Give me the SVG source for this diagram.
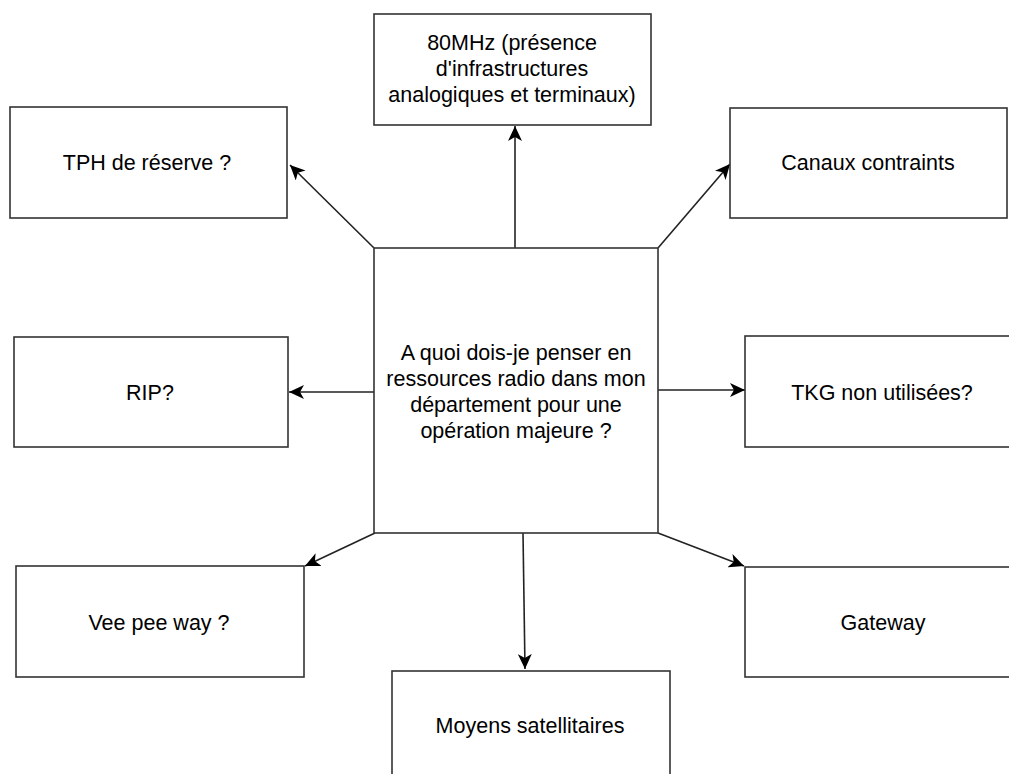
<svg xmlns="http://www.w3.org/2000/svg" width="1009" height="774" viewBox="0 0 1009 774">
<style>
.box{fill:#fff;stroke:#333;stroke-width:1.6}
.t{font-family:"Liberation Sans",Arial,sans-serif;font-size:21.5px;fill:#000;text-anchor:middle}
.c{fill:none;stroke:#222;stroke-width:1.6}
</style>
<defs>
<marker id="ah" markerUnits="userSpaceOnUse" markerWidth="16" markerHeight="14" viewBox="0 0 16 14" refX="15" refY="7" orient="auto">
<path d="M0,0 L15,7 L0,14 L4,7 Z" fill="#000"/>
</marker>
</defs>
<rect width="1009" height="774" fill="#fff"/>
<g id="connectors">
<line class="c" x1="515" y1="248" x2="515" y2="126" marker-end="url(#ah)"/>
<line class="c" x1="374" y1="248" x2="290" y2="165" marker-end="url(#ah)"/>
<line class="c" x1="658" y1="248" x2="730" y2="164" marker-end="url(#ah)"/>
<line class="c" x1="374" y1="392" x2="289" y2="392" marker-end="url(#ah)"/>
<line class="c" x1="658" y1="390" x2="745" y2="390" marker-end="url(#ah)"/>
<line class="c" x1="375" y1="533" x2="305" y2="566" marker-end="url(#ah)"/>
<line class="c" x1="658" y1="533" x2="744" y2="566" marker-end="url(#ah)"/>
<line class="c" x1="523" y1="533" x2="525" y2="669" marker-end="url(#ah)"/>
</g>
<g id="center">
<rect class="box" x="374" y="248" width="284" height="285"/>
<text class="t" x="516" y="360">A quoi dois-je penser en</text>
<text class="t" x="516" y="386">ressources radio dans mon</text>
<text class="t" x="516" y="412">département pour une</text>
<text class="t" x="516" y="438">opération majeure ?</text>
</g>
<g id="n80mhz">
<rect class="box" x="374" y="14" width="277" height="111"/>
<text class="t" x="512" y="50">80MHz (présence</text>
<text class="t" x="512" y="76">d'infrastructures</text>
<text class="t" x="512" y="102">analogiques et terminaux)</text>
</g>
<g id="tph">
<rect class="box" x="10" y="107" width="277" height="111"/>
<text class="t" x="147" y="170">TPH de réserve ?</text>
</g>
<g id="canaux">
<rect class="box" x="730" y="108" width="277" height="110"/>
<text class="t" x="868" y="170">Canaux contraints</text>
</g>
<g id="rip">
<rect class="box" x="14" y="337" width="274" height="110"/>
<text class="t" x="150" y="400">RIP?</text>
</g>
<g id="tkg">
<rect class="box" x="745" y="336" width="274" height="111"/>
<text class="t" x="882" y="400">TKG non utilisées?</text>
</g>
<g id="vee">
<rect class="box" x="16" y="566" width="288" height="111"/>
<text class="t" x="159" y="630">Vee pee way ?</text>
</g>
<g id="gateway">
<rect class="box" x="745" y="567" width="276" height="110"/>
<text class="t" x="883" y="630">Gateway</text>
</g>
<g id="moyens">
<rect class="box" x="392" y="671" width="278" height="111"/>
<text class="t" x="530" y="733">Moyens satellitaires</text>
</g>
</svg>
